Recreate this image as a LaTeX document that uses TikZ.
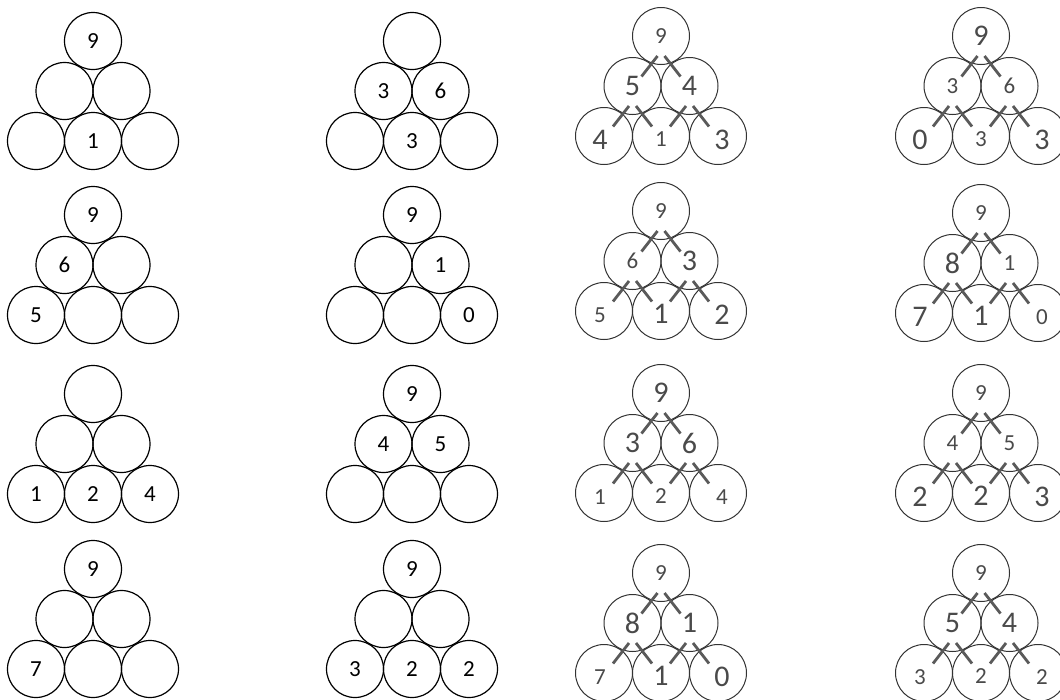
\documentclass[tikz,border=0pt]{standalone}
\usepackage{fontspec}
\usepackage{graphicx}
\setmainfont{Carlito}
\usetikzlibrary{calc}
\definecolor{circgray}{HTML}{333333}
\definecolor{slashgray}{HTML}{5A5A5A}
\definecolor{txtgray}{HTML}{4A4A4A}
\newcommand\Sm[1]{\scalebox{2.3}{#1}}
\newcommand\Lg[1]{\scalebox{3.0}{#1}}
% plain pyramid: #1 name, #2 x, #3 y, #4-#9 labels (top, mid-left, mid-right, bottom-left, bottom-mid, bottom-right)
\newcommand\pyrA[9]{%
  \begin{scope}[shift={(#2,#3)}]
    \node[cirA] (#1a) at (0,0) {};
    \node[cirA] (#1b) at (-28.5,50) {};
    \node[cirA] (#1c) at (28.5,50) {};
    \node[cirA] (#1d) at (-57,100) {};
    \node[cirA] (#1e) at (0,100) {};
    \node[cirA] (#1f) at (57,100) {};
    \node[txtA] (#1ta) at (#1a) {\Sm{#4}};
    \node[txtA] (#1tb) at (#1b) {\Sm{#5}};
    \node[txtA] (#1tc) at (#1c) {\Sm{#6}};
    \node[txtA] (#1td) at (#1d) {\Sm{#7}};
    \node[txtA] (#1te) at (#1e) {\Sm{#8}};
    \node[txtA] (#1tf) at (#1f) {\Sm{#9}};
  \end{scope}}
% gray pyramid with strokes
\newcommand\pyrB[9]{%
  \begin{scope}[shift={(#2,#3)}]
    \node[cirB] (#1a) at (0,0) {};
    \node[cirB] (#1b) at (-28.5,50) {};
    \node[cirB] (#1c) at (28.5,50) {};
    \node[cirB] (#1d) at (-57,100) {};
    \node[cirB] (#1e) at (0,100) {};
    \node[cirB] (#1f) at (57,100) {};
    \foreach \p in {a,b,c}{%
      \draw[slashline] ($(#1\p)+(-3.5,20)$) -- ++(-16,20.5);
      \draw[slashline] ($(#1\p)+(3.5,20)$) -- ++(16,20.5);
    }
    \node[txtB] (#1ta) at (#1a) {#4};
    \node[txtB] (#1tb) at (#1b) {#5};
    \node[txtB] (#1tc) at (#1c) {#6};
    \node[txtB] (#1td) at ($(#1d)+(-4,4)$) {#7};
    \node[txtB] (#1te) at ($(#1e)+(0,3)$) {#8};
    \node[txtB] (#1tf) at ($(#1f)+(4,4)$) {#9};
  \end{scope}}
\begin{document}
\begin{tikzpicture}[x=1pt,y=-1pt,
  cirA/.style={circle,draw=black,line width=1.2pt,minimum size=57pt,inner sep=0pt},
  cirB/.style={circle,draw=circgray,line width=1.0pt,minimum size=57pt,inner sep=0pt},
  txtA/.style={inner sep=0pt,text=black},
  txtB/.style={inner sep=0pt,text=txtgray},
  slashline/.style={draw=slashgray,line width=2.8pt}]
\useasboundingbox (0,0) rectangle (1060,699);
\clip (0,0) rectangle (1060,699);
% column 1
\pyrA{pa}{93}{41}{9}{}{}{}{1}{}
\pyrA{pb}{93}{215}{9}{6}{}{5}{}{}
\pyrA{pc}{93}{394}{}{}{}{1}{2}{4}
\pyrA{pd}{93}{569}{9}{}{}{7}{}{}
% column 2
\pyrA{qa}{412}{41}{}{3}{6}{}{3}{}
\pyrA{qb}{412}{215}{9}{}{1}{}{}{0}
\pyrA{qc}{412}{394}{9}{4}{5}{}{}{}
\pyrA{qd}{412}{569}{9}{}{}{3}{2}{2}
% column 3
\pyrB{ra}{661}{36}{\Sm 9}{\Lg 5}{\Lg 4}{\Lg 4}{\Sm 1}{\Lg 3}
\pyrB{rb}{661}{211}{\Sm 9}{\Sm 6}{\Lg 3}{\Sm 5}{\Lg 1}{\Lg 2}
\pyrB{rc}{661}{393}{\Lg 9}{\Lg 3}{\Lg 6}{\Sm 1}{\Sm 2}{\Sm 4}
\pyrB{rd}{661}{573}{\Sm 9}{\Lg 8}{\Lg 1}{\Sm 7}{\Lg 1}{\Lg 0}
% column 4
\pyrB{sa}{981}{36}{\Lg 9}{\Sm 3}{\Sm 6}{\Lg 0}{\Sm 3}{\Lg 3}
\pyrB{sb}{981}{213}{\Sm 9}{\Lg 8}{\Sm 1}{\Lg 7}{\Lg 1}{\Sm 0}
\pyrB{sc}{981}{393}{\Sm 9}{\Sm 4}{\Sm 5}{\Lg 2}{\Lg 2}{\Lg 3}
\pyrB{sd}{981}{573}{\Sm 9}{\Lg 5}{\Lg 4}{\Sm 3}{\Sm 2}{\Sm 2}
\end{tikzpicture}
\end{document}
